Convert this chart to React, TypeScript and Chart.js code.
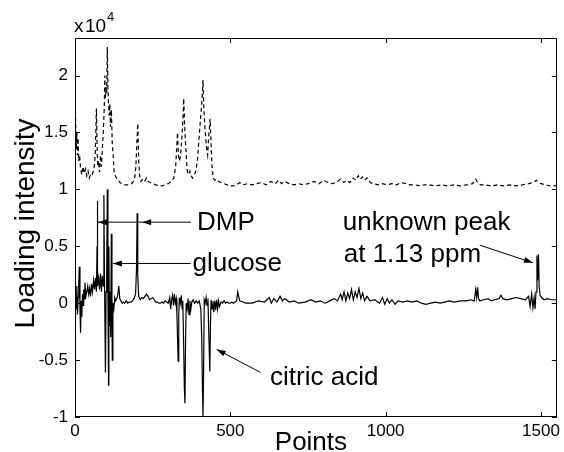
import React, { useEffect, useRef } from 'react';
import { Chart, registerables } from 'chart.js';

Chart.register(...registerables);

// Axis ranges (y in units of x10^4)
const X_MIN = 0;
const X_MAX = 1551;
const Y_MIN = -1;
const Y_MAX = 2.33;
const xTicks = [0, 500, 1000, 1500];
const yTicks = [-1, -0.5, 0, 0.5, 1, 1.5, 2];

// Solid loading (x10^4)
const solidX = [
  0, 1, 2, 4, 6, 8, 10, 12, 14, 16, 18, 20, 22, 24, 26, 28, 30, 32, 35, 38, 41, 44, 47, 50, 53, 56, 60, 63, 66, 69,
  71, 72, 73, 76, 79, 82, 85, 88, 91, 93, 95, 98, 100, 102, 104, 106, 108, 109, 111, 113, 115, 117, 119, 120, 122,
  125, 128, 131, 134, 137, 141, 144, 148, 152, 156, 160, 165, 170, 175, 180, 185, 190, 195, 198, 200, 202, 205,
  210, 215, 220, 225, 230, 235, 240, 245, 250, 255, 260, 265, 270, 275, 280, 285, 290, 295, 300, 305, 308, 311,
  314, 317, 320, 323, 326, 328, 330, 332, 334, 336, 339, 342, 345, 347, 350, 352, 354, 356, 358, 361, 364, 367,
  370, 373, 376, 380, 385, 390, 395, 400, 405, 408, 410, 412, 414, 416, 419, 422, 425, 428, 431, 434, 436, 438,
  441, 444, 447, 450, 453, 456, 459, 462, 465, 470, 475, 480, 485, 490, 495, 500, 505, 510, 515, 520, 524, 527,
  530, 540, 550, 570, 590, 610, 625, 632, 640, 650, 660, 668, 675, 690, 705, 720, 740, 760, 775, 790, 805, 820,
  835, 845, 855, 860, 866, 872, 878, 884, 890, 896, 902, 908, 914, 920, 926, 932, 940, 950, 965, 980, 990, 997,
  1005, 1012, 1020, 1030, 1040, 1055, 1070, 1085, 1100, 1115, 1130, 1145, 1160, 1175, 1190, 1205, 1220, 1240,
  1260, 1275, 1285, 1290, 1293, 1296, 1299, 1303, 1315, 1330, 1340, 1350, 1365, 1371, 1377, 1390, 1405, 1420,
  1435, 1450, 1460, 1465, 1470, 1474, 1478, 1481, 1484, 1487, 1489, 1492, 1494, 1497, 1502, 1510, 1520, 1535, 1551,
];
const solidY = [
  0.22, -0.6, 0.1, -0.05, 0.15, -0.1, 0.05, 0.18, 0.32, -0.05, -0.26, 0.02, -0.12, 0.08, -0.02, 0.12, 0.04, 0.18, 0.06, 0.1, 0.15, 0.08, 0.13, 0.06, 0.17, 0.1, 0.2, 0.12, 0.22, 0.1,
  0.5, 0.9, 0.15, 0.22, 0.12, 0.26, 0.1, 0.24, 0.15, 0.95, 0.2, -0.61, 0.1, 0.25, 1.0, 0.05, -0.72, 0.5, -0.2, 0.1, -0.3, 0.61, -0.1, -0.5, 0.0,
  -0.05, 0.05, 0.02, 0.04, 0.06, 0.15, 0.04, 0.02, 0.0, 0.01, 0.0, 0.02, 0.0, 0.01, 0.01, 0.02, 0.04, 0.08, 0.3, 0.79, 0.25, 0.06,
  0.03, 0.05, 0.04, 0.06, 0.08, 0.06, 0.03, 0.04, 0.05, 0.03, 0.01, 0.01, 0.0, 0.0, 0.01, 0.0, 0.02, 0.01, 0.0, 0.05, -0.05, 0.03,
  0.07, -0.02, 0.08, 0.0, 0.04, -0.1, -0.3, -0.51, -0.1, 0.05, 0.0, 0.07, -0.05, 0.02, -0.4, -0.75, -0.88, -0.3, 0.0, -0.05, 0.04, -0.1,
  0.02, -0.05, 0.01, 0.03, 0.0, 0.02, 0.0, 0.02, -0.05, -0.3, -0.7, -1.0, -0.6, 0.03, 0.0, 0.05, -0.02, 0.04, -0.3, -0.6, -0.2, 0.03,
  -0.05, 0.02, -0.08, 0.02, -0.06, 0.03, -0.05, 0.02, -0.03, 0.01, 0.0, 0.02, 0.0, 0.01, 0.0, 0.0, 0.01, 0.0, 0.01, 0.02, 0.1, 0.06,
  0.02, 0.01, 0.0, 0.0, 0.02, 0.01, 0.05, 0.0, 0.04, 0.01, 0.06, 0.02, 0.04, 0.01, 0.02, 0.0, 0.01, 0.03, 0.01, 0.02, 0.0, 0.02,
  0.04, 0.02, 0.08, 0.03, 0.1, 0.02, 0.09, 0.04, 0.12, 0.03, 0.1, 0.05, 0.13, 0.04, 0.09, 0.02, 0.06, 0.02, 0.03, 0.0, 0.05, -0.01,
  0.04, 0.0, 0.03, -0.01, 0.02, 0.01, 0.02, 0.01, 0.02, 0.0, -0.01, 0.0, 0.01, 0.0, 0.01, 0.02, 0.01, 0.02,
  0.02, 0.03, 0.02, 0.12, 0.05, 0.14, 0.04, 0.02, 0.03, 0.04, 0.02, 0.03, 0.04, 0.07, 0.04, 0.03, 0.04, 0.05,
  0.04, 0.03, 0.06, -0.03, 0.08, -0.04, 0.05, -0.05, 0.1, 0.42, 0.2, 0.43, 0.15, 0.07, 0.05, 0.03, 0.04, 0.03, 0.03,
];

// Dashed loading (x10^4)
const dashedX = [
  0, 2, 4, 6, 8, 10, 12, 15, 18, 22, 26, 30, 34, 38, 42, 46, 50, 54, 58, 62, 65, 67, 69, 71, 73, 76, 79, 82, 85, 88,
  91, 94, 96, 98, 100, 102, 104, 106, 108, 110, 112, 114, 117, 120, 123, 126, 130, 135, 140, 145, 150, 158, 166,
  174, 182, 188, 192, 196, 199, 202, 205, 208, 212, 218, 224, 230, 236, 242, 250, 260, 270, 280, 290, 300, 310,
  318, 324, 327, 330, 333, 336, 340, 344, 347, 350, 353, 356, 359, 362, 366, 370, 374, 378, 382, 388, 394, 398,
  402, 405, 409, 412, 415, 418, 421, 424, 427, 430, 433, 435, 438, 441, 445, 450, 456, 462, 470, 480, 490, 500,
  510, 520, 530, 540, 555, 570, 585, 600, 615, 630, 645, 655, 665, 675, 690, 705, 720, 735, 750, 770, 785, 800,
  815, 830, 845, 855, 865, 875, 885, 895, 905, 912, 918, 925, 932, 940, 950, 960, 975, 990, 1005, 1020, 1035,
  1050, 1065, 1080, 1095, 1110, 1125, 1140, 1160, 1180, 1200, 1220, 1240, 1260, 1280, 1290, 1296, 1305, 1320,
  1340, 1360, 1380, 1400, 1420, 1440, 1460, 1475, 1485, 1492, 1500, 1515, 1530, 1545, 1551,
];
const dashedY = [
  1.88, 1.6, 1.35, 1.5, 1.3, 1.45, 1.25, 1.3, 1.18, 1.13, 1.2, 1.14, 1.18, 1.12, 1.16, 1.1, 1.13, 1.12, 1.15, 1.2, 1.3, 1.5, 1.71, 1.4, 1.2, 1.25, 1.15, 1.3, 1.2, 1.35,
  1.5, 1.7, 2.0, 1.8, 1.9, 1.85, 2.25, 1.9, 1.75, 1.65, 1.75, 1.55, 1.7, 1.4, 1.3, 1.15, 1.12, 1.09, 1.08, 1.06, 1.05, 1.04, 1.04,
  1.04, 1.05, 1.07, 1.1, 1.2, 1.4, 1.58, 1.25, 1.12, 1.07, 1.09, 1.07, 1.1, 1.07, 1.06, 1.05, 1.04, 1.03, 1.03, 1.04, 1.05, 1.07,
  1.1, 1.2, 1.35, 1.5, 1.3, 1.25, 1.3, 1.45, 1.6, 1.8, 1.55, 1.4, 1.25, 1.15, 1.13, 1.16, 1.12, 1.1, 1.12, 1.15, 1.25, 1.4,
  1.55, 1.65, 1.8, 1.96, 1.7, 1.55, 1.45, 1.35, 1.3, 1.45, 1.55, 1.62, 1.4, 1.2, 1.1, 1.08, 1.09, 1.07, 1.06, 1.05, 1.04, 1.03,
  1.03, 1.04, 1.06, 1.04, 1.05, 1.04, 1.05, 1.06, 1.04, 1.07, 1.05, 1.08, 1.05, 1.07, 1.05, 1.04, 1.05, 1.04, 1.05, 1.07, 1.05, 1.08,
  1.06, 1.05, 1.07, 1.09, 1.06, 1.08, 1.06, 1.1, 1.08, 1.12, 1.09, 1.11, 1.08, 1.1, 1.06, 1.05, 1.04, 1.05, 1.04, 1.05, 1.04,
  1.06, 1.05, 1.04, 1.04, 1.03, 1.04, 1.04, 1.03, 1.04, 1.03, 1.04, 1.03, 1.04, 1.05, 1.09, 1.06, 1.04, 1.04,
  1.03, 1.04, 1.03, 1.04, 1.03, 1.04, 1.05, 1.06, 1.08, 1.06, 1.05, 1.04, 1.03, 1.03, 1.04,
];

// Annotations (anchor = left end of text baseline, in data units)
const noteTexts = ['DMP', 'glucose', 'citric acid', 'unknown peak', 'at 1.13 ppm'];
const noteX = [393, 378, 628, 862, 865];
const noteY = [0.64, 0.28, -0.72, 0.647, 0.366];

// Arrows: from (fromX, fromY) to tip (toX, toY)
const arrowFromX = [373, 216, 372, 597, 1303];
const arrowFromY = [0.712, 0.712, 0.349, -0.608, 0.51];
const arrowToX = [216, 74, 122, 456, 1474];
const arrowToY = [0.712, 0.712, 0.349, -0.406, 0.355];

const FONT = '"Liberation Sans", Arial, Helvetica, sans-serif';

const overlayPlugin = {
  id: 'overlay',
  afterDraw(chart: any) {
    const { ctx, chartArea: a, scales } = chart;
    const xs = scales.x;
    const ys = scales.y;
    ctx.save();
    ctx.strokeStyle = '#000';
    ctx.fillStyle = '#000';
    ctx.lineWidth = 1;
    // frame
    ctx.strokeRect(Math.round(a.left) + 0.5, Math.round(a.top) + 0.5, Math.round(a.right - a.left) - 1, Math.round(a.bottom - a.top) - 1);
    // inward ticks
    const T = 5;
    ctx.beginPath();
    xTicks.forEach((v) => {
      const p = Math.round(xs.getPixelForValue(v)) + 0.5;
      ctx.moveTo(p, a.bottom); ctx.lineTo(p, a.bottom - T);
      ctx.moveTo(p, a.top); ctx.lineTo(p, a.top + T);
    });
    yTicks.forEach((v) => {
      const p = Math.round(ys.getPixelForValue(v)) + 0.5;
      ctx.moveTo(a.left, p); ctx.lineTo(a.left + T, p);
      ctx.moveTo(a.right, p); ctx.lineTo(a.right - T, p);
    });
    ctx.stroke();

    // arrows
    for (let i = 0; i < arrowFromX.length; i++) {
      const x1 = xs.getPixelForValue(arrowFromX[i]);
      const y1 = ys.getPixelForValue(arrowFromY[i]);
      const x2 = xs.getPixelForValue(arrowToX[i]);
      const y2 = ys.getPixelForValue(arrowToY[i]);
      ctx.beginPath();
      ctx.moveTo(x1, y1);
      ctx.lineTo(x2, y2);
      ctx.stroke();
      const ang = Math.atan2(y2 - y1, x2 - x1);
      const L = 9;
      const W = 3;
      const bx = x2 - L * Math.cos(ang);
      const by = y2 - L * Math.sin(ang);
      ctx.beginPath();
      ctx.moveTo(x2, y2);
      ctx.lineTo(bx + W * Math.sin(ang), by - W * Math.cos(ang));
      ctx.lineTo(bx - W * Math.sin(ang), by + W * Math.cos(ang));
      ctx.closePath();
      ctx.fill();
    }

    // annotation texts
    ctx.font = `26px ${FONT}`;
    ctx.textAlign = 'left';
    ctx.textBaseline = 'alphabetic';
    for (let i = 0; i < noteTexts.length; i++) {
      ctx.fillText(noteTexts[i], xs.getPixelForValue(noteX[i]), ys.getPixelForValue(noteY[i]));
    }

    // axis titles
    ctx.font = `26px ${FONT}`;
    ctx.textAlign = 'center';
    ctx.fillText('Points', (a.left + a.right) / 2 - 5, 450);
    ctx.save();
    ctx.translate(34, (a.top + a.bottom) / 2 - 4);
    ctx.rotate(-Math.PI / 2);
    ctx.font = `28px ${FONT}`;
    ctx.fillText('Loading intensity', 0, 0);
    ctx.restore();

    // exponent label
    ctx.textAlign = 'left';
    ctx.font = `19px ${FONT}`;
    ctx.fillText('x', a.left - 1, 32);
    ctx.fillText('10', a.left + 10, 32);
    ctx.font = `13px ${FONT}`;
    ctx.fillText('4', a.left + 32, 21);
    ctx.restore();
  },
};

export default function App() {
  const ref = useRef<HTMLCanvasElement | null>(null);
  useEffect(() => {
    if (!ref.current) return;
    const chart = new Chart(ref.current, {
      type: 'line',
      data: {
        datasets: [
          {
            label: 'dashed',
            data: dashedX.map((x, i) => ({ x, y: dashedY[i] })),
            borderColor: '#000',
            borderWidth: 1.2,
            borderDash: [4, 3],
            pointRadius: 0,
            tension: 0,
            fill: false,
          },
          {
            label: 'solid',
            data: solidX.map((x, i) => ({ x, y: solidY[i] })),
            borderColor: '#000',
            borderWidth: 1.2,
            pointRadius: 0,
            tension: 0,
            fill: false,
          },
        ],
      },
      options: {
        responsive: false,
        animation: false,
        devicePixelRatio: 1,
        layout: { padding: { left: 0, top: 38, right: 3, bottom: 0 } },
        plugins: { legend: { display: false }, tooltip: { enabled: false }, title: { display: false } },
        scales: {
          x: {
            type: 'linear',
            min: X_MIN,
            max: X_MAX,
            grid: { display: false, drawTicks: false, tickLength: 0 },
            border: { display: false },
            afterFit: (s: any) => { s.height = 35; },
            afterBuildTicks: (s: any) => { s.ticks = xTicks.map((v) => ({ value: v })); },
            ticks: {
              autoSkip: false,
              maxRotation: 0,
              padding: 4,
              color: '#000',
              font: { family: FONT, size: 17 },
              callback: (v: any) => String(v),
            },
          },
          y: {
            type: 'linear',
            min: Y_MIN,
            max: Y_MAX,
            grid: { display: false, drawTicks: false, tickLength: 0 },
            border: { display: false },
            afterFit: (s: any) => { s.width = 75; },
            afterBuildTicks: (s: any) => { s.ticks = yTicks.map((v) => ({ value: v })); },
            ticks: {
              autoSkip: false,
              padding: 7,
              color: '#000',
              font: { family: FONT, size: 17 },
              callback: (v: any) => String(v),
            },
          },
        },
      },
      plugins: [overlayPlugin],
    });
    return () => chart.destroy();
  }, []);
  return (
    <div style={{ position: 'absolute', left: 0, top: 0, width: 564, height: 452, background: '#fff' }}>
      <canvas ref={ref} width={564} height={452} style={{ display: 'block' }} />
    </div>
  );
}
